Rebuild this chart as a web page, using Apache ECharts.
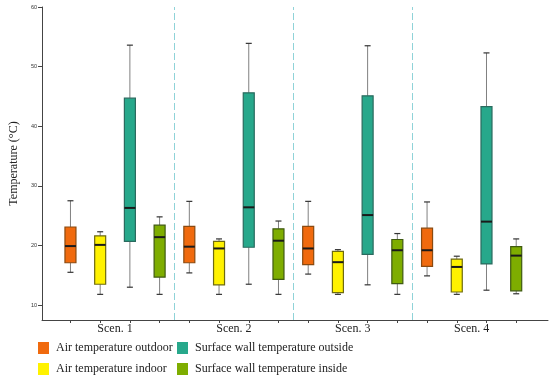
<!DOCTYPE html>
<html>
<head>
<meta charset="utf-8">
<script src="https://cdn.jsdelivr.net/npm/echarts@6/dist/echarts.min.js"></script>
<style>html,body{margin:0;padding:0;background:#fff;}#c{width:550px;height:379px;}</style>
</head>
<body>
<div id="c"></div>
<script>
// Scenario labels
const categories = ['Scen. 1', 'Scen. 2', 'Scen. 3', 'Scen. 4'];
// Series names
const seriesNames = ['Air temperature outdoor', 'Air temperature indoor', 'Surface wall temperature outside', 'Surface wall temperature inside'];
// Box statistics per scenario: [min, Q1, median, Q3, max]
const airOutdoor = [
  [15.5, 17.1, 19.9, 23.1, 27.5],
  [15.4, 17.1, 19.8, 23.2, 27.4],
  [15.2, 16.8, 19.5, 23.2, 27.4],
  [14.9, 16.5, 19.2, 22.9, 27.3]
];
const airIndoor = [
  [11.8, 13.5, 20.1, 21.6, 22.3],
  [11.8, 13.4, 19.5, 20.7, 21.1],
  [11.8, 12.1, 17.2, 19.0, 19.3],
  [11.8, 12.2, 16.4, 17.7, 18.2]
];
const wallOutside = [
  [13.0, 20.7, 26.3, 44.7, 53.6],
  [13.5, 19.7, 26.4, 45.6, 53.9],
  [13.4, 18.5, 25.1, 45.1, 53.5],
  [12.5, 16.9, 24.0, 43.3, 52.3]
];
const wallInside = [
  [11.8, 14.7, 21.4, 23.4, 24.8],
  [11.8, 14.3, 20.8, 22.8, 24.1],
  [11.8, 13.6, 19.2, 21.0, 22.0],
  [11.9, 12.4, 18.3, 19.8, 21.1]
];
// Y axis tick values
const yTicks = [10, 20, 30, 40, 50, 60];

const allSeries = [airOutdoor, airIndoor, wallOutside, wallInside];
const fills = ['#F06A0E', '#FFF200', '#27A88B', '#7EAD00'];
const borders = ['#8A4A10', '#6E6A10', '#2A6A5E', '#3F5A10'];
const perGroup = seriesNames.length;

const boxPositions = [];
for (let g = 0; g < categories.length; g++) for (let s = 0; s < perGroup; s++) boxPositions.push(g * perGroup + s);
const labelPositions = categories.map((c, g) => g * perGroup + (perGroup - 1) / 2);
const separatorPositions = categories.slice(1).map((c, g) => (g + 1) * perGroup - 0.5);

function renderBox(params, api) {
  const x = api.value(0);
  const pMin = api.coord([x, api.value(1)]);
  const pQ1 = api.coord([x, api.value(2)]);
  const pMed = api.coord([x, api.value(3)]);
  const pQ3 = api.coord([x, api.value(4)]);
  const pMax = api.coord([x, api.value(5)]);
  const si = params.seriesIndex;
  const hw = 5.5, cw = 3;
  const whisker = { stroke: '#808080', lineWidth: 1 };
  const cap = { stroke: '#333', lineWidth: 1.2 };
  return {
    type: 'group',
    children: [
      { type: 'line', shape: { x1: pMin[0], y1: pMin[1], x2: pQ1[0], y2: pQ1[1] }, style: whisker },
      { type: 'line', shape: { x1: pQ3[0], y1: pQ3[1], x2: pMax[0], y2: pMax[1] }, style: whisker },
      { type: 'line', shape: { x1: pMin[0] - cw, y1: pMin[1], x2: pMin[0] + cw, y2: pMin[1] }, style: cap },
      { type: 'line', shape: { x1: pMax[0] - cw, y1: pMax[1], x2: pMax[0] + cw, y2: pMax[1] }, style: cap },
      { type: 'rect', shape: { x: pQ3[0] - hw, y: pQ3[1], width: hw * 2, height: pQ1[1] - pQ3[1] },
        style: { fill: fills[si], stroke: borders[si], lineWidth: 1.2 } },
      { type: 'line', shape: { x1: pMed[0] - hw, y1: pMed[1], x2: pMed[0] + hw, y2: pMed[1] },
        style: { stroke: '#1a1a1a', lineWidth: 2 } }
    ]
  };
}

const series = allSeries.map((arr, s) => ({
  name: seriesNames[s],
  type: 'custom',
  renderItem: renderBox,
  itemStyle: { color: fills[s] },
  encode: { x: 0, y: [1, 2, 3, 4, 5] },
  data: arr.map((v, g) => [g * perGroup + s].concat(v))
}));
series.push({
  type: 'line',
  data: [],
  silent: true,
  markLine: {
    symbol: 'none',
    silent: true,
    label: { show: false },
    lineStyle: { color: '#8FD3D8', type: [7, 3], width: 1 },
    data: separatorPositions.map(p => ({ xAxis: p }))
  }
});

const legendCommon = {
  orient: 'vertical', top: 342, padding: 0, itemGap: 9, itemWidth: 11, itemHeight: 12, icon: 'rect',
  itemStyle: { borderWidth: 0 },
  textStyle: { fontFamily: 'Liberation Serif', fontSize: 12, color: '#222', padding: [0, 0, 0, 2] }
};

const chart = echarts.init(document.getElementById('c'), null, { renderer: 'canvas' });
chart.setOption({
  animation: false,
  backgroundColor: '#ffffff',
  grid: { left: 32, right: 2, top: 7, bottom: 59, containLabel: false },
  xAxis: {
    type: 'value',
    min: -0.957,
    max: 16.07,
    splitLine: { show: false },
    axisLine: { onZero: false, lineStyle: { color: '#444', width: 1 } },
    axisTick: { show: true, length: 3, customValues: boxPositions, lineStyle: { color: '#444' } },
    axisLabel: {
      customValues: labelPositions,
      formatter: v => categories[Math.round((v - (perGroup - 1) / 2) / perGroup)],
      fontFamily: 'Liberation Serif', fontSize: 12, color: '#222', margin: 3
    }
  },
  yAxis: {
    type: 'value',
    min: 7.5,
    max: 60,
    name: 'Temperature (°C)',
    nameLocation: 'middle',
    nameGap: 17,
    nameTextStyle: { fontFamily: 'Liberation Serif', fontSize: 12, color: '#222' },
    splitLine: { show: false },
    axisLine: { show: true, onZero: false, lineStyle: { color: '#444', width: 1 } },
    axisTick: { show: true, length: 4, customValues: yTicks, lineStyle: { color: '#444' } },
    axisLabel: { customValues: yTicks, fontFamily: 'Liberation Sans', fontSize: 5.5, color: '#333', margin: 5 }
  },
  legend: [
    Object.assign({}, legendCommon, { left: 38, data: [seriesNames[0], seriesNames[1]] }),
    Object.assign({}, legendCommon, { left: 177, data: [seriesNames[2], seriesNames[3]] })
  ],
  series: series
});
</script>
</body>
</html>
